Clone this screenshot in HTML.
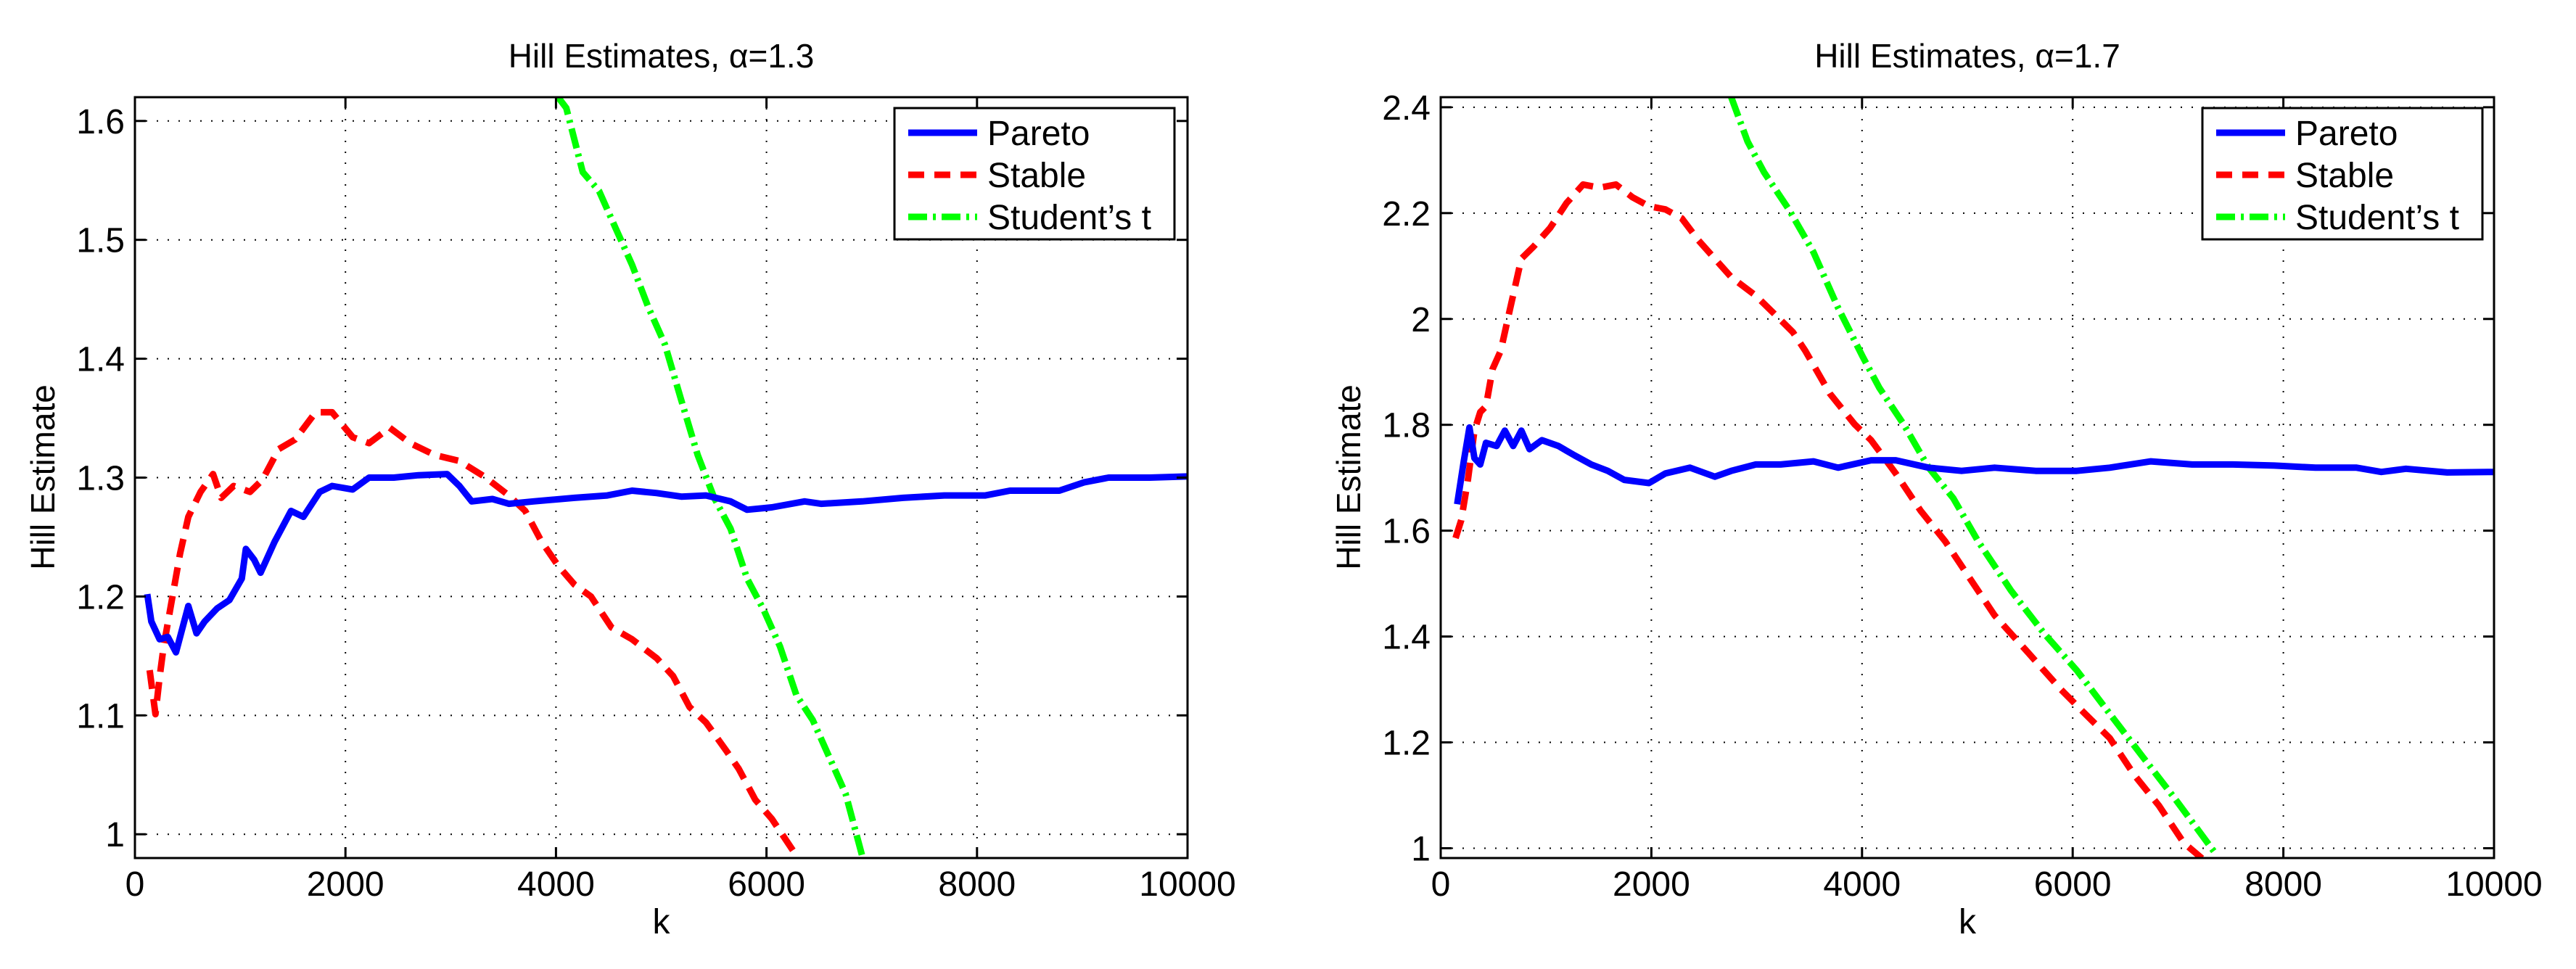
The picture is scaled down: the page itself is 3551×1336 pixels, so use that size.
<!DOCTYPE html>
<html><head><meta charset="utf-8"><style>
html,body{margin:0;padding:0;background:#fff;}
svg text{font-family:"Liberation Sans",Arial,sans-serif;fill:#000;}
</style></head><body>
<svg id="fig" width="3551" height="1331" viewBox="0 0 3551 1331" xmlns="http://www.w3.org/2000/svg">
<rect width="3551" height="1331" fill="#fff"/>
<defs>
<clipPath id="clipL"><rect x="186" y="134" width="1451" height="1049"/></clipPath>
<clipPath id="clipR"><rect x="1986" y="134" width="1452" height="1049"/></clipPath>
</defs>
</svg>
<script>
// ---- data: left panel (alpha = 1.3) ----
const xTicks = [0, 2000, 4000, 6000, 8000, 10000];
const xTickLabels = ["0", "2000", "4000", "6000", "8000", "10000"];
const yTicksL = [1, 1.1, 1.2, 1.3, 1.4, 1.5, 1.6];
const yTickLabelsL = ["1", "1.1", "1.2", "1.3", "1.4", "1.5", "1.6"];
const yTicksR = [1, 1.2, 1.4, 1.6, 1.8, 2, 2.2, 2.4];
const yTickLabelsR = ["1", "1.2", "1.4", "1.6", "1.8", "2", "2.2", "2.4"];
const legendLabels = ["Pareto", "Stable", "Student\u2019s t"];

const paretoL_k = [117,156,234,312,390,507,585,663,781,898,1015,1054,1132,1194,1327,1483,1600,1756,1873,2069,2225,2459,2693,2966,3083,3200,3396,3552,3786,4176,4488,4723,4957,5191,5425,5659,5816,6050,6362,6518,6908,7298,7689,8079,8313,8782,9016,9250,9640,10000];
const paretoL_v = [1.202,1.179,1.164,1.166,1.153,1.192,1.169,1.179,1.190,1.197,1.215,1.240,1.231,1.220,1.246,1.272,1.267,1.288,1.293,1.290,1.300,1.300,1.302,1.303,1.293,1.280,1.282,1.278,1.280,1.283,1.285,1.289,1.287,1.284,1.285,1.280,1.273,1.275,1.280,1.278,1.280,1.283,1.285,1.285,1.289,1.289,1.296,1.300,1.300,1.301];
const stableL_k = [140,195,234,273,351,429,507,624,742,820,937,1093,1210,1366,1522,1717,1873,2069,2225,2420,2615,2849,3083,3318,3552,3708,3864,4020,4176,4332,4527,4723,4957,5113,5269,5425,5620,5737,5894,6050,6284];
const stableL_v = [1.138,1.101,1.132,1.158,1.197,1.236,1.267,1.288,1.303,1.283,1.293,1.288,1.298,1.324,1.332,1.355,1.355,1.334,1.329,1.342,1.329,1.319,1.314,1.301,1.285,1.272,1.246,1.226,1.210,1.200,1.174,1.164,1.148,1.133,1.107,1.094,1.070,1.055,1.029,1.013,0.982];
const studentL_k = [4020,4098,4254,4410,4566,4723,4879,5035,5191,5347,5503,5659,5816,5972,6128,6284,6440,6596,6752,6908];
const studentL_v = [1.620,1.611,1.557,1.541,1.510,1.479,1.443,1.412,1.365,1.319,1.283,1.257,1.215,1.189,1.158,1.117,1.096,1.065,1.034,0.982];

// ---- data: right panel (alpha = 1.7) ----
const paretoR_k = [156,219,273,320,375,430,531,609,688,766,844,961,1117,1273,1430,1586,1742,1977,2133,2367,2602,2758,2992,3227,3539,3773,4086,4320,4633,4945,5258,5648,6039,6352,6742,7133,7523,7914,8305,8695,8930,9164,9555,10000];
const paretoR_v = [1.650,1.731,1.795,1.737,1.725,1.766,1.760,1.789,1.760,1.789,1.754,1.771,1.760,1.742,1.725,1.713,1.696,1.690,1.708,1.719,1.702,1.713,1.725,1.725,1.731,1.719,1.733,1.733,1.719,1.713,1.719,1.713,1.713,1.719,1.731,1.725,1.725,1.723,1.719,1.719,1.711,1.717,1.710,1.711];
const stableR_k = [141,195,258,320,375,430,492,570,648,766,883,1039,1195,1352,1508,1664,1820,1977,2133,2289,2445,2602,2758,2992,3227,3344,3461,3695,3930,4086,4320,4555,4789,5023,5258,5570,5883,6117,6352,6586,6820,7055,7227];
const stableR_v = [1.586,1.620,1.696,1.789,1.824,1.835,1.905,1.940,2.010,2.114,2.137,2.172,2.219,2.254,2.248,2.254,2.230,2.213,2.207,2.190,2.149,2.114,2.079,2.044,1.998,1.975,1.940,1.859,1.801,1.771,1.708,1.638,1.580,1.510,1.440,1.371,1.301,1.254,1.208,1.138,1.080,1.010,0.981];
const studentR_k = [2758,2914,3070,3305,3539,3773,4008,4164,4398,4633,4867,5102,5414,5727,6039,6352,6664,6977,7367];
const studentR_v = [2.419,2.335,2.277,2.207,2.126,2.021,1.928,1.870,1.800,1.719,1.661,1.580,1.487,1.406,1.336,1.254,1.173,1.092,0.987];

const NS = "http://www.w3.org/2000/svg";
const svg = document.getElementById("fig");
function mk(tag, attrs, parent) {
  const e = document.createElementNS(NS, tag);
  for (const k in attrs) e.setAttribute(k, attrs[k]);
  (parent || svg).appendChild(e);
  return e;
}
const styles = {
  pareto: {stroke: "#0000ff", width: 9, dash: null},
  stable: {stroke: "#ff0000", width: 9, dash: "26,14"},
  student: {stroke: "#00ff00", width: 9, dash: "28,8,4,8"}
};

function panel(id, box, xDom, yDom, yTicks, yLabels, title, series) {
  const g = mk("g", {});
  
  
  const X = v => box.x + (v - xDom[0]) / (xDom[1] - xDom[0]) * box.w;
  const Y = v => box.y + box.h - (v - yDom[0]) / (yDom[1] - yDom[0]) * box.h;
  // grid
  const grid = mk("g", {stroke: "#000", "stroke-width": 2, "stroke-dasharray": "2,13"}, g);
  
  
  xTicks.forEach(t => { if (t > xDom[0] && t < xDom[1]) mk("line", {x1: X(t), x2: X(t), y1: box.y, y2: box.y + box.h}, grid); });
  yTicks.forEach(t => mk("line", {x1: box.x, x2: box.x + box.w, y1: Y(t), y2: Y(t)}, grid));
  // series
  const sg = mk("g", {"clip-path": "url(#" + box.clip + ")"}, g);
  series.forEach(s => {
    const st = styles[s.key];
    const d = s.k.map((k, i) => (i ? "L" : "M") + X(k).toFixed(1) + "," + Y(s.v[i]).toFixed(1)).join(" ");
    const p = mk("path", {d: d, fill: "none", stroke: st.stroke, "stroke-width": st.width, "stroke-linejoin": "round"}, sg);
    if (st.dash) p.setAttribute("stroke-dasharray", st.dash);
    
    
  });
  // axes box + ticks
  const ax = mk("g", {stroke: "#000", "stroke-width": 3, fill: "none"}, g);
  
  
  mk("rect", {x: box.x, y: box.y, width: box.w, height: box.h}, ax);
  xTicks.forEach(t => {
    mk("line", {x1: X(t), x2: X(t), y1: box.y + box.h, y2: box.y + box.h - 15}, ax);
    mk("line", {x1: X(t), x2: X(t), y1: box.y, y2: box.y + 15}, ax);
  });
  yTicks.forEach(t => {
    mk("line", {x1: box.x, x2: box.x + 15, y1: Y(t), y2: Y(t)}, ax);
    mk("line", {x1: box.x + box.w, x2: box.x + box.w - 15, y1: Y(t), y2: Y(t)}, ax);
  });
  // tick labels
  xTicks.forEach((t, i) => {
    const tx = mk("text", {x: X(t), y: 1235, "font-size": 48, "text-anchor": "middle"}, g);
    tx.textContent = xTickLabels[i];
    
    
  });
  yTicks.forEach((t, i) => {
    const tx = mk("text", {x: box.x - 14, y: Y(t) + 17, "font-size": 48, "text-anchor": "end"}, g);
    tx.textContent = yLabels[i];
    
    
  });
  // titles
  const tt = mk("text", {x: box.x + box.w / 2, y: 93, "font-size": 46, "text-anchor": "middle"}, g);
  tt.textContent = title;
  
  
  const xl = mk("text", {x: box.x + box.w / 2, y: 1287, "font-size": 48, "text-anchor": "middle"}, g);
  xl.textContent = "k";
  
  
  const yl = mk("text", {x: 0, y: 0, "font-size": 46, "text-anchor": "middle", transform: "translate(" + (box.x - 111) + ",658) rotate(-90)"}, g);
  yl.textContent = "Hill Estimate";
  
  
  // legend
  const lg = mk("g", {}, g);
  
  
  mk("rect", {x: box.lx, y: 149, width: 386, height: 181, fill: "#fff", stroke: "#000", "stroke-width": 3}, lg);
  ["pareto", "stable", "student"].forEach((key, i) => {
    const st = styles[key];
    const yy = 183 + i * 58;
    const ln = mk("line", {x1: box.lx + 19, x2: box.lx + 114, y1: yy, y2: yy, stroke: st.stroke, "stroke-width": st.width}, lg);
    if (st.dash) ln.setAttribute("stroke-dasharray", key === "stable" ? "22,14" : "26,8,4,8");
    
    
    const tx = mk("text", {x: box.lx + 128, y: yy + 17, "font-size": 48}, lg);
    tx.textContent = legendLabels[i];
    
    
  });
}

panel("left", {x: 186, y: 134, w: 1451, h: 1049, clip: "clipL", lx: 1233}, [0, 10000], [0.980, 1.620], yTicksL, yTickLabelsL, "Hill Estimates, \u03b1=1.3", [
  {key: "stable", k: stableL_k, v: stableL_v},
  {key: "student", k: studentL_k, v: studentL_v},
  {key: "pareto", k: paretoL_k, v: paretoL_v}
]);
panel("right", {x: 1986, y: 134, w: 1452, h: 1049, clip: "clipR", lx: 3036}, [0, 10000], [0.9815, 2.419], yTicksR, yTickLabelsR, "Hill Estimates, \u03b1=1.7", [
  {key: "stable", k: stableR_k, v: stableR_v},
  {key: "student", k: studentR_k, v: studentR_v},
  {key: "pareto", k: paretoR_k, v: paretoR_v}
]);
</script>
</body></html>
